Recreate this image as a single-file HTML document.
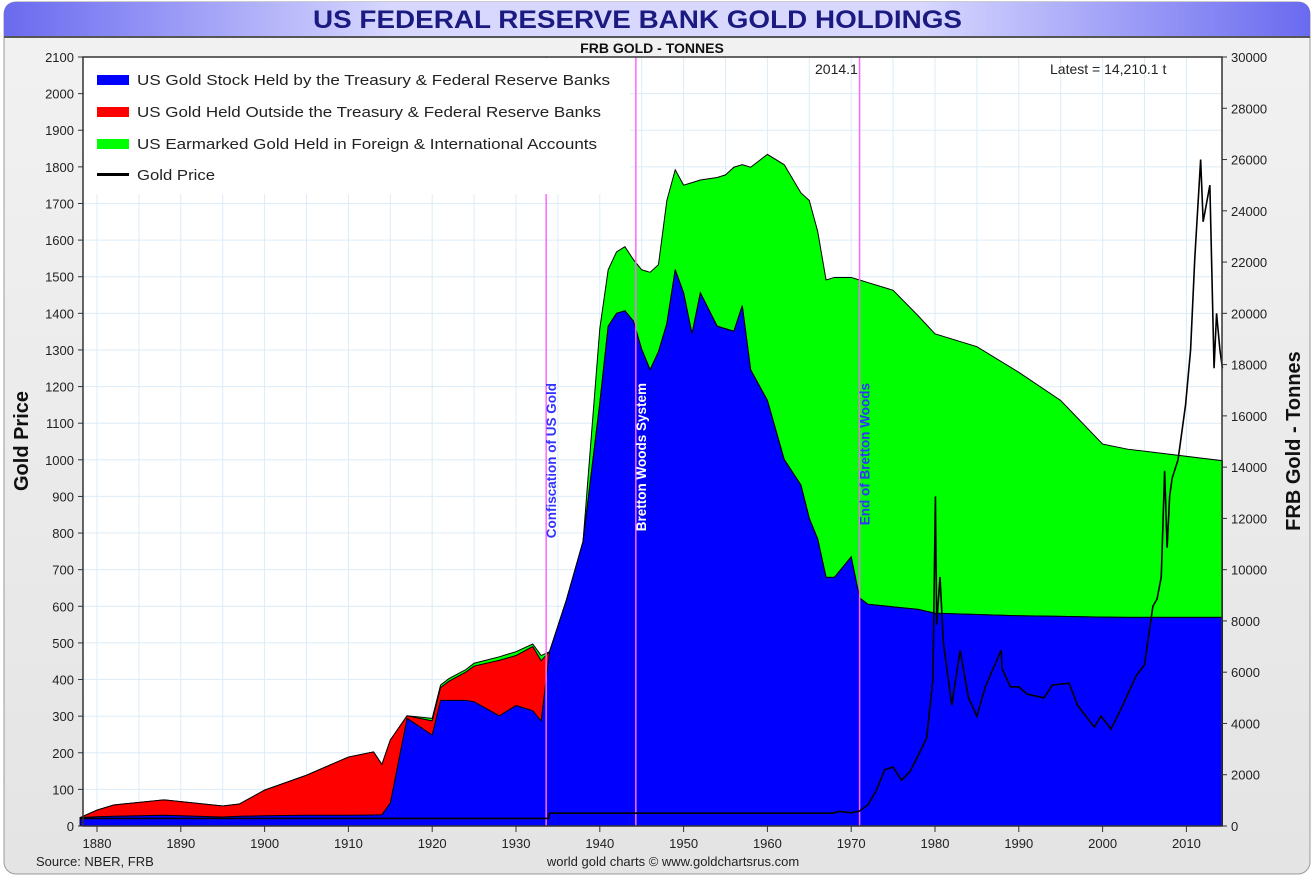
<!DOCTYPE html>
<html><head><meta charset="utf-8"><style>
body{margin:0;width:1315px;height:880px;background:#fff;overflow:hidden;font-family:"Liberation Sans",sans-serif}
</style></head><body>
<svg id="c" width="1315" height="880" xmlns="http://www.w3.org/2000/svg">
<defs>
<linearGradient id="tg" x1="0" x2="1"><stop offset="0" stop-color="#6a6af0"/><stop offset="0.3" stop-color="#d8d8ff"/><stop offset="0.7" stop-color="#d8d8ff"/><stop offset="1" stop-color="#6a6af0"/></linearGradient>
<linearGradient id="bg" x1="0" y1="0" x2="0" y2="1"><stop offset="0" stop-color="#f2f2f2"/><stop offset="1" stop-color="#e4e4e4"/></linearGradient>
</defs>
<rect x="4" y="2" width="1306" height="872" rx="12" fill="url(#bg)" stroke="#999"/>
<path d="M4 36 V14 Q4 2 16 2 H1298 Q1310 2 1310 14 V36 Z" fill="url(#tg)"/>
<line x1="4" y1="37" x2="1310" y2="37" stroke="#555" stroke-width="2"/>
<text x="313" y="28" font-size="25" font-weight="bold" fill="#1a1a80" textLength="649" lengthAdjust="spacingAndGlyphs">US FEDERAL RESERVE BANK GOLD HOLDINGS</text>
<text x="652" y="53" text-anchor="middle" font-size="14" font-weight="bold" fill="#111">FRB GOLD - TONNES</text>
<rect x="83" y="57" width="1139" height="769" fill="#fff"/>
<g id="grid"></g>
<g id="areas"></g>
<g id="vlines"></g>
<g id="price"></g>
<rect x="83" y="57" width="1139" height="769" fill="none" stroke="#333" stroke-width="1.5"/>
<g id="axes"></g>
<g>
<rect x="84" y="58" width="546" height="136" fill="#fff"/>
<rect x="97" y="75" width="32" height="10" fill="#0000ff"/>
<text x="137" y="85" font-size="15" fill="#222" textLength="473" lengthAdjust="spacingAndGlyphs">US Gold Stock Held by the Treasury &amp; Federal Reserve Banks</text>
<rect x="97" y="107" width="32" height="10" fill="#ff0000"/>
<text x="137" y="117" font-size="15" fill="#222" textLength="464" lengthAdjust="spacingAndGlyphs">US Gold Held Outside the Treasury &amp; Federal Reserve Banks</text>
<rect x="97" y="139" width="32" height="10" fill="#00ff00"/>
<text x="137" y="149" font-size="15" fill="#222" textLength="460" lengthAdjust="spacingAndGlyphs">US Earmarked Gold Held in Foreign &amp; International Accounts</text>
<rect x="97" y="173" width="32" height="3" fill="#000"/>
<text x="137" y="180" font-size="15" fill="#222" textLength="78" lengthAdjust="spacingAndGlyphs">Gold Price</text>
</g>
<text x="815" y="74" font-size="14" fill="#222">2014.1</text>
<text x="1050" y="74" font-size="14" fill="#222">Latest = 14,210.1 t</text>
<text x="28" y="441" text-anchor="middle" font-size="20" font-weight="bold" fill="#111" transform="rotate(-90 28 441)">Gold Price</text>
<text x="1300" y="441" text-anchor="middle" font-size="20" font-weight="bold" fill="#111" transform="rotate(-90 1300 441)">FRB Gold - Tonnes</text>
<text x="36" y="866" font-size="13" fill="#222">Source: NBER, FRB</text>
<text x="673" y="866" text-anchor="middle" font-size="13" fill="#222">world gold charts © www.goldchartsrus.com</text>
</svg>
<script>
const years=[1878,1880,1882,1888,1895,1897,1900,1905,1910,1913,1914,1915,1917,1920,1921,1922,1924,1925,1928,1930,1932,1933,1934,1936,1938,1940,1941,1942,1943,1944,1945,1946,1947,1948,1949,1950,1951,1952,1954,1955,1956,1957,1958,1960,1962,1964,1965,1966,1967,1968,1970,1971,1972,1975,1978,1980,1985,1990,1995,2000,2003,2014.3];
const blueT=[330,360,380,420,350,380,400,420,420,430,440,900,4200,3550,4900,4900,4900,4850,4300,4700,4500,4100,6800,8800,11100,16500,19500,20000,20100,19700,18600,17800,18500,19600,21700,20800,19200,20800,19500,19400,19300,20300,17800,16600,14300,13300,12000,11200,9700,9700,10500,8900,8650,8550,8450,8300,8250,8200,8180,8150,8140,8140];
const redTopT=[330,620,820,1020,780,860,1400,1980,2690,2890,2400,3350,4300,4100,5400,5650,6000,6240,6460,6650,7000,6450,6800,8800,11100,16500,19500,20000,20100,19700,18600,17800,18500,19600,21700,20800,19200,20800,19500,19400,19300,20300,17800,16600,14300,13300,12000,11200,9700,9700,10500,8900,8650,8550,8450,8300,8250,8200,8180,8150,8140,8140];
const greenTopT=[330,620,820,1020,780,860,1400,1980,2690,2890,2400,3350,4300,4200,5500,5750,6100,6350,6600,6800,7100,6650,6800,8800,11100,19400,21700,22400,22600,22100,21700,21600,21900,24400,25600,25000,25100,25200,25300,25400,25700,25800,25700,26200,25800,24700,24400,23200,21300,21400,21400,21300,21200,20900,19900,19200,18700,17700,16600,14900,14700,14250];
const pYears=[1878,1933.9,1934,1967.9,1968.5,1970,1971,1972,1973,1974,1975,1976,1977,1978,1979,1979.75,1980.05,1980.2,1980.6,1981,1982,1982.8,1983,1984,1985,1986,1987.9,1988,1989,1990,1991,1993,1994,1996,1997,1999,1999.8,2001,2002,2003,2004,2005,2006,2006.5,2007,2007.4,2007.7,2008,2008.3,2009,2009.9,2010.5,2011,2011.7,2012,2012.8,2013.3,2013.6,2014,2014.3];
const prices=[20.67,20.67,35,35,40,36,41,58,97,154,161,125,148,193,240,400,900,550,680,500,330,450,480,350,300,380,480,430,380,380,360,350,385,390,330,270,300,265,310,360,410,440,600,620,680,970,760,900,950,1000,1150,1300,1550,1820,1650,1750,1250,1400,1300,1250];
const xTicks=[1880,1890,1900,1910,1920,1930,1940,1950,1960,1970,1980,1990,2000,2010];
const leftTicks=[0,100,200,300,400,500,600,700,800,900,1000,1100,1200,1300,1400,1500,1600,1700,1800,1900,2000,2100];
const rightTicks=[0,2000,4000,6000,8000,10000,12000,14000,16000,18000,20000,22000,24000,26000,28000,30000];
const events=[[1933.6,"Confiscation of US Gold","#3333ff"],[1944.3,"Bretton Woods System","#ffffff"],[1971.0,"End of Bretton Woods","#3333ff"]];
const NS="http://www.w3.org/2000/svg";
const X=y=>97+(y-1880)*8.38, YL=v=>826-v/2100*769, YR=v=>826-v/30000*769;
function mk(t,a,p){const e=document.createElementNS(NS,t);for(const k in a)e.setAttribute(k,a[k]);document.getElementById(p).appendChild(e);return e;}
for(let y=1880;y<=2010;y+=5){const g=mk('line',{x1:X(y),x2:X(y),y1:57,y2:826,stroke:'#dcecf8'},'grid');}
leftTicks.forEach(v=>{const g=mk('line',{x1:83,x2:1222,y1:YL(v),y2:YL(v),stroke:'#dcecf8'},'grid');});
function area(top,bot,col,name){let d='M'+X(years[0])+' '+YR(top[0]);years.forEach((y,i)=>d+=' L'+X(y)+' '+YR(top[i]));for(let i=years.length-1;i>=0;i--)d+=' L'+X(years[i])+' '+(bot?YR(bot[i]):826);
const p=mk('path',{d:d+'Z',fill:col,stroke:'#000','stroke-width':1},'areas');}
area(greenTopT,null,'#00ff00','area-earmarked');
area(redTopT,null,'#ff0000','area-gold-outside');
area(blueT,null,'#0000ff','area-us-gold-stock');
events.forEach(e=>{const x=X(e[0]);const l=mk('line',{x1:x,x2:x,y1:57,y2:826,stroke:'#ff66ff','stroke-width':1.5},'vlines');
const t=mk('text',{x:x+10,y:383,'font-size':13.5,'font-weight':'bold',fill:e[2],transform:`rotate(-90 ${x+10} 383)`,'text-anchor':'end'},'vlines');t.textContent=e[1];});
let d='';pYears.forEach((y,i)=>d+=(i?' L':'M')+X(y)+' '+YL(prices[i]));
const pl=mk('path',{d:d,fill:'none',stroke:'#000','stroke-width':1.6},'price');
xTicks.forEach(y=>{mk('line',{x1:X(y),x2:X(y),y1:826,y2:832,stroke:'#333'},'axes');const t=mk('text',{x:X(y),y:848,'font-size':13,'text-anchor':'middle',fill:'#222'},'axes');t.textContent=y;});
leftTicks.forEach(v=>{mk('line',{x1:78,x2:83,y1:YL(v),y2:YL(v),stroke:'#333'},'axes');const t=mk('text',{x:74,y:YL(v)+5,'font-size':13,'text-anchor':'end',fill:'#222'},'axes');t.textContent=v;});
rightTicks.forEach(v=>{mk('line',{x1:1222,x2:1227,y1:YR(v),y2:YR(v),stroke:'#333'},'axes');const t=mk('text',{x:1231,y:YR(v)+5,'font-size':13,fill:'#222'},'axes');t.textContent=v;});
</script>
</body></html>
